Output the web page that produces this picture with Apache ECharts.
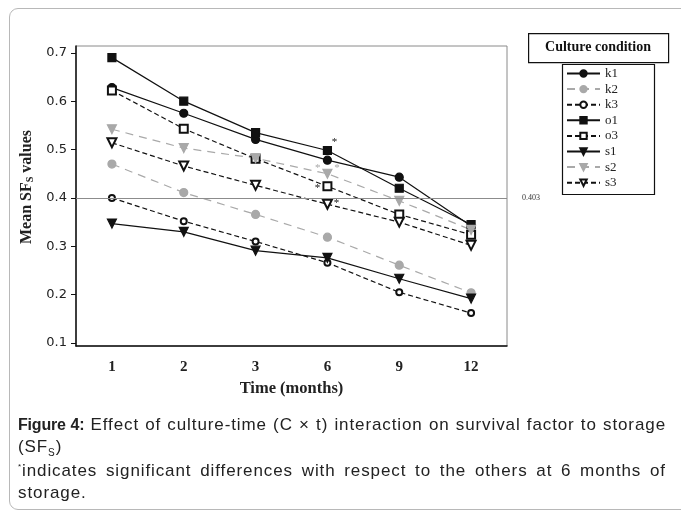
<!DOCTYPE html>
<html>
<head>
<meta charset="utf-8">
<script src="https://cdn.jsdelivr.net/npm/echarts@6/dist/echarts.min.js"></script>
<style>
  html, body { margin: 0; padding: 0; background: #fff; }
  #wrap { position: relative; width: 681px; height: 512px; overflow: hidden; }
  #frame {
    position: absolute; left: 9px; top: 8px; width: 700px; height: 502px;
    border: 1px solid #b8b8b8; border-radius: 9px; box-sizing: border-box;
  }
  #chart { position: absolute; left: 0; top: 0; width: 681px; height: 512px; }
  .caption {
    position: absolute; left: 18px; top: 414px; width: 648px;
    font-family: 'Liberation Sans', Arial, sans-serif; font-size: 17px;
    letter-spacing: 0.9px; color: #222; line-height: 22px;
  }
  .caption b { font-size: 16px; letter-spacing: -0.2px; }
  .just { text-align: justify; text-align-last: justify; white-space: nowrap; }
  .caption sub { font-size: 10px; line-height: 0; }
  .caption sup { font-size: 8px; line-height: 0; }
  .gap { height: 2px; }
</style>
</head>
<body>
<div id="wrap">
  <div id="frame"></div>
  <div id="chart"></div>
  <div class="caption">
    <div class="just"><b>Figure 4:</b> Effect of culture-time (C × t) interaction on survival factor to storage</div>
    <div>(SF<sub>S</sub>)</div>
    <div class="gap"></div>
    <div class="just"><sup>*</sup>indicates significant differences with respect to the others at 6 months of</div>
    <div>storage.</div>
  </div>
</div>
<script>
const months = ['1', '2', '3', '6', '9', '12']
const k1 = [0.628, 0.575, 0.521, 0.478, 0.443, 0.342]
const k2 = [0.470, 0.411, 0.366, 0.319, 0.261, 0.204]
const k3 = [0.400, 0.352, 0.310, 0.266, 0.205, 0.162]
const o1 = [0.690, 0.600, 0.535, 0.498, 0.420, 0.345]
const o3 = [0.622, 0.543, 0.481, 0.424, 0.366, 0.324]
const s1 = [0.347, 0.330, 0.291, 0.276, 0.233, 0.192]
const s2 = [0.542, 0.503, 0.482, 0.450, 0.394, 0.334]
const s3 = [0.514, 0.466, 0.426, 0.387, 0.350, 0.302]
const yTicks = [0.1, 0.2, 0.3, 0.4, 0.5, 0.6, 0.7]
const refValue = 0.403
const sigIdx = 3 // 6 months

const BLACK = '#111'
const GRAY = '#a9a9a9'
const SERIF = "'Liberation Serif', 'DejaVu Serif', serif"

// put an asterisk label on the 6-month point
function withStar(arr, text, offset, color) {
  return arr.map((v, i) => i !== sigIdx ? v : {
    value: v,
    label: {
      show: true, position: 'inside', formatter: text, offset: offset,
      fontSize: 11, fontFamily: SERIF, color: color,
    },
  })
}

function line(name, data, color, dashed, symbol, size, rotate) {
  return {
    name,
    type: 'line',
    data,
    symbol,
    symbolSize: size,
    symbolRotate: rotate || 0,
    lineStyle: { color, width: 1.2, type: dashed },
    itemStyle: { color, borderColor: color, borderWidth: 1.2 },
    z: 3,
  }
}

const series = [
  line('k1', k1, BLACK, 'solid', 'circle', 8),
  line('k2', k2, GRAY, [8, 6], 'circle', 8),
  line('k3', k3, BLACK, [5, 3], 'emptyCircle', 6),
  line('o1', withStar(o1, '*', [7, -8], BLACK), BLACK, 'solid', 'rect', 8),
  line('o3', withStar(o3, '*', [-10, 2], BLACK), BLACK, [5, 3], 'emptyRect', 8),
  line('s1', s1, BLACK, 'solid', 'triangle', 9, 180),
  line('s2', withStar(s2, '*\u2003 *', [0, -6], GRAY), GRAY, [8, 6], 'triangle', 9, 180),
  line('s3', withStar(s3, '*', [9, -1], BLACK), BLACK, [5, 3], 'emptyTriangle', 9, 180),
]

series[0].markLine = {
  silent: true,
  symbol: 'none',
  lineStyle: { color: '#8c8c8c', width: 1, type: 'solid' },
  label: {
    show: true, position: 'end', distance: 15, formatter: refValue.toFixed(3),
    fontSize: 8, fontFamily: SERIF, color: '#333',
  },
  data: [{ yAxis: refValue }],
}

const chart = echarts.init(document.getElementById('chart'), null, { renderer: 'canvas' })

chart.setOption({
  backgroundColor: 'transparent',
  animation: false,
  grid: {
    left: 76, top: 46, right: 174, bottom: 166,
    show: true, borderColor: '#8a8a8a', borderWidth: 1,
  },
  legend: {
    orient: 'vertical',
    left: 566, top: 66, padding: 0,
    itemWidth: 33, itemHeight: 8, itemGap: 0.6,
    selectedMode: false,
    textStyle: { fontFamily: SERIF, fontSize: 13, color: '#222', lineHeight: 15 },
    data: ['k1', 'k2', 'k3', 'o1', 'o3', 's1', 's2', 's3'],
  },
  xAxis: {
    type: 'category',
    data: months,
    boundaryGap: true,
    axisLine: { lineStyle: { color: '#111', width: 1.5 } },
    axisTick: { alignWithLabel: true, length: 4, lineStyle: { color: '#111' } },
    axisLabel: { fontFamily: SERIF, fontWeight: 'bold', fontSize: 15, color: '#222', margin: 14 },
    name: 'Time (months)',
    nameLocation: 'middle',
    nameGap: 33,
    nameTextStyle: { fontFamily: SERIF, fontWeight: 'bold', fontSize: 16.5, color: '#222' },
  },
  yAxis: {
    type: 'value',
    min: 0.094,
    max: 0.714,
    splitLine: { show: false },
    axisLine: { show: true, lineStyle: { color: '#111', width: 1.5 } },
    axisTick: { show: true, length: 5, customValues: yTicks, lineStyle: { color: '#111' } },
    axisLabel: {
      customValues: yTicks,
      formatter: v => v.toFixed(1),
      fontFamily: "'DejaVu Sans', sans-serif", fontSize: 13, color: '#222', margin: 9,
    },
    name: 'Mean SF{sub|S} values',
    nameLocation: 'middle',
    nameGap: 34,
    nameTextStyle: {
      fontFamily: SERIF, fontWeight: 'bold', fontSize: 16, color: '#222',
      padding: [0, 0, 0, 18],
      rich: {
        sub: { fontFamily: SERIF, fontWeight: 'bold', fontSize: 10, color: '#222', padding: [7, 0, 0, 0] },
      },
    },
  },
  graphic: [
    {
      type: 'rect', left: 528, top: 33,
      shape: { width: 140, height: 29 },
      style: { fill: '#fff', stroke: '#111', lineWidth: 1.2 },
    },
    {
      type: 'text',
      style: {
        x: 598, y: 47, text: 'Culture condition', align: 'center', verticalAlign: 'middle',
        font: "bold 14px 'Liberation Serif', serif", fill: '#111',
      },
    },
    {
      type: 'rect', left: 560, top: 62,
      shape: { width: 92, height: 130 },
      style: { fill: 'none', stroke: '#111', lineWidth: 1.2 },
      z: -1,
    },
  ],
  series,
})
</script>
</body>
</html>
